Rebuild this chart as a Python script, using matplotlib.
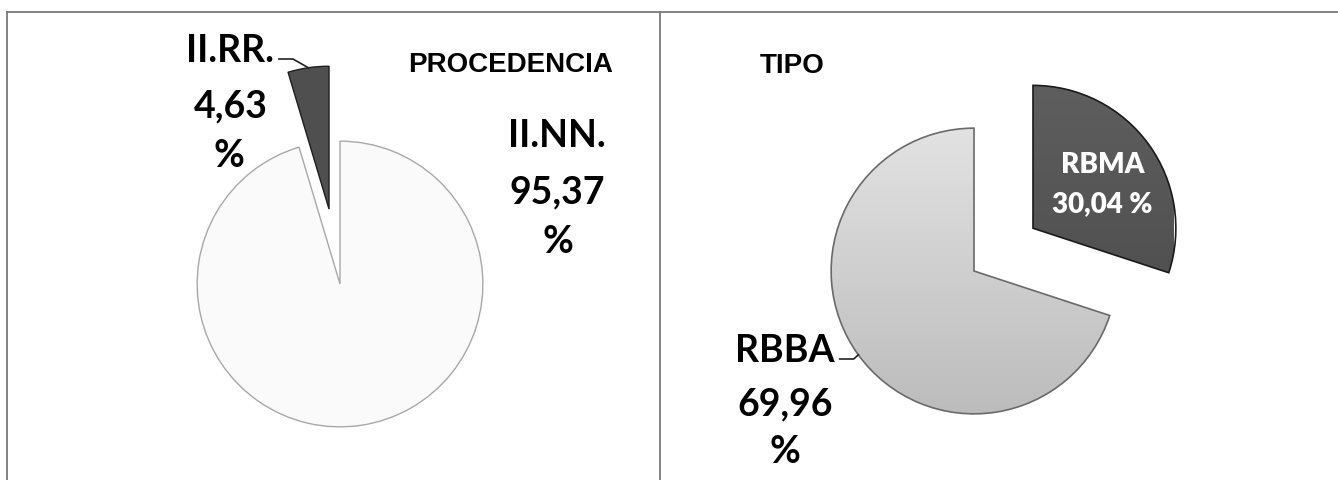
import numpy as np
import matplotlib
matplotlib.use("Agg")
import matplotlib.pyplot as plt

# Data
proc_labels = ["II.RR.", "II.NN."]
proc_values = [4.63, 95.37]
tipo_labels = ["RBMA", "RBBA"]
tipo_values = [30.04, 69.96]

W, H = 1338, 481
LABEL_FONT = "Lato"
TITLE_FONT = "Liberation Sans"


def fmt(v):
    return "{:.2f}".format(v).replace(".", ",")


def px(x, y):
    # pixel (top-left origin) -> figure fraction
    return x / W, 1 - y / H


def pie_axes(fig, cx, cy, size=400):
    x0, y0 = px(cx - size / 2, cy + size / 2)
    ax = fig.add_axes([x0, y0, size / W, size / H])
    return ax


def fix_limits(ax):
    # pie() resets the limits, so set them afterwards (radius 1 -> ~143 px)
    ax.set_xlim(-1.4, 1.4)
    ax.set_ylim(-1.4, 1.4)
    ax.axis("off")


def shade(ax, wedge, top, bottom):
    # soft vertical gradient clipped to the wedge, like the 3D look of the original
    grad = np.linspace(0, 1, 256).reshape(-1, 1)
    cmap = matplotlib.colors.LinearSegmentedColormap.from_list("g", [top, bottom])
    cx, cy = wedge.center
    im = ax.imshow(grad, cmap=cmap, extent=(cx - 1, cx + 1, cy - 1, cy + 1),
                   origin="upper", aspect="auto", zorder=wedge.get_zorder() + 0.1)
    im.set_clip_path(wedge)


def mid_point(ax, wedge, overlay):
    th = np.deg2rad((wedge.theta1 + wedge.theta2) / 2)
    cx, cy = wedge.center
    pt = (cx + wedge.r * np.cos(th), cy + wedge.r * np.sin(th))
    return overlay.transData.inverted().transform(ax.transData.transform(pt))


fig = plt.figure(figsize=(W / 100, H / 100), dpi=100)
fig.patch.set_facecolor("white")

# left pie: PROCEDENCIA
ax1 = pie_axes(fig, 340, 285)
w1, _ = ax1.pie(proc_values, startangle=90, counterclock=True, explode=[0.53, 0],
                colors=["#4f4f4f", "#fafafa"],
                wedgeprops=dict(linewidth=1.0))
w1[0].set_edgecolor("#1e1e1e")
w1[1].set_edgecolor("#a8a8a8")
fix_limits(ax1)

# right pie: TIPO
ax2 = pie_axes(fig, 974, 272)
w2, _ = ax2.pie(tipo_values, startangle=90, counterclock=False, explode=[0.51, 0],
                colors=["#565656", "#cdcdcd"],
                wedgeprops=dict(linewidth=1.2))
w2[0].set_edgecolor("#1a1a1a")
w2[1].set_edgecolor("#6a6a6a")
shade(ax2, w2[1], "#e2e2e2", "#bcbcbc")
shade(ax2, w2[0], "#5e5e5e", "#4a4a4a")
for w in w2:
    w.set_zorder(w.get_zorder() + 0.5)
    w.set_facecolor("none")
fix_limits(ax2)

# overlay in pixel coordinates for frames, texts and leader lines
ov = fig.add_axes([0, 0, 1, 1])
ov.set_xlim(0, W)
ov.set_ylim(H, 0)
ov.axis("off")
ov.patch.set_visible(False)

frame = dict(color="#7a7a7a", lw=1.3)
ov.plot([7, W], [13, 13], **frame)
ov.plot([7, 7], [13, H], **frame)
ov.plot([660, 660], [13, H], **frame)

big = dict(fontfamily=LABEL_FONT, fontweight="bold", fontsize=27, ha="center", va="baseline")
ttl = dict(fontfamily=TITLE_FONT, fontweight="bold", fontsize=20, ha="center", va="baseline")
inner = dict(color="white", fontfamily=LABEL_FONT, fontweight="heavy", fontsize=20,
             ha="center", va="baseline")

ov.text(511, 72, "PROCEDENCIA", **ttl)
ov.text(792, 73, "TIPO", **ttl)

# II.RR.
t_rr = ov.text(230, 62, proc_labels[0], **big)
ov.text(231, 117, fmt(proc_values[0]), **big)
ov.text(229, 167, "%", **big)
# II.NN.
ov.text(557, 147, proc_labels[1], **big)
ov.text(557, 203, fmt(proc_values[1]), **big)
ov.text(558, 253, "%", **big)
# RBMA (inside slice)
ov.text(1103, 173, tipo_labels[0], **inner)
ov.text(1102, 212, fmt(tipo_values[0]) + " %", **inner)
# RBBA
t_bb = ov.text(785, 362, tipo_labels[1], **big)
ov.text(785, 415, fmt(tipo_values[1]), **big)
ov.text(785, 463, "%", **big)

# leader lines from label to slice mid-angle
fig.canvas.draw()
for t, ax, wedge in [(t_rr, ax1, w1[0]), (t_bb, ax2, w2[1])]:
    bb = ov.transData.inverted().transform(t.get_window_extent())
    x_end = bb[:, 0].max() + 5
    y_base = bb[:, 1].max() - 8
    tx, ty = mid_point(ax, wedge, ov)
    ov.plot([x_end, x_end + 14, tx], [y_base, y_base, ty], color="#222222", lw=1.2)

fig.savefig("out.png", dpi=100)
